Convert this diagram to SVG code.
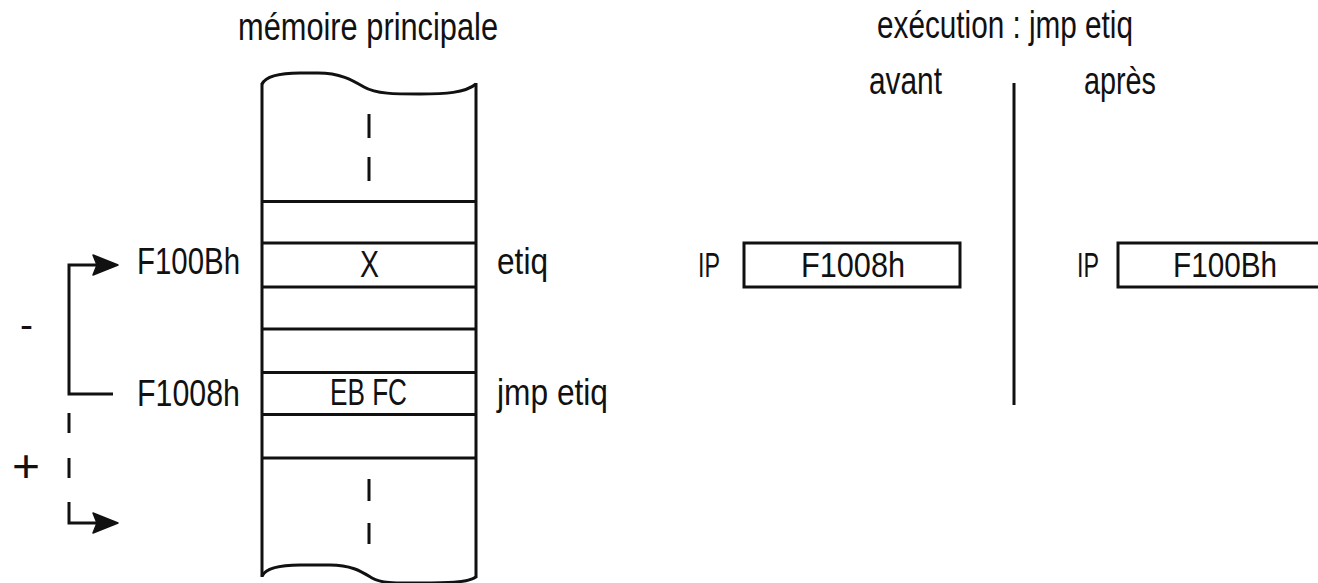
<svg xmlns="http://www.w3.org/2000/svg" width="1318" height="583" viewBox="0 0 1318 583">
  <style>
    .t { font-family: "Liberation Sans", Arial, sans-serif; fill: #111; }
    .ln { fill: none; stroke: #111; stroke-width: 3; }
  </style>
  <rect width="1318" height="583" fill="#fff"/>

  <!-- main memory column -->
  <g id="memoire">
    <text class="t" x="238" y="40" font-size="38" textLength="260" lengthAdjust="spacingAndGlyphs">mémoire principale</text>
    <path class="ln" d="M262,84 C266,76 280,73 300,73 L318,73 C340,73 352,80 364,87 C376,94 395,94 420,94 C445,94 465,93 476,84"/>
    <path class="ln" d="M262,576 C266,568 280,565 300,565 L330,565 C352,565 362,572 372,578 C382,584 400,583 420,583 C445,583 467,583 476,577"/>
    <line class="ln" x1="262" y1="83" x2="262" y2="577"/>
    <line class="ln" x1="476" y1="83" x2="476" y2="578"/>
    <!-- elided memory above and below -->
    <path class="ln" d="M369,114 V138 M369,157 V181 M369,479 V501 M369,523 V544"/>
  </g>

  <!-- memory cells -->
  <g id="cells">
    <line class="ln" x1="262" y1="201.5" x2="476" y2="201.5"/>
    <line class="ln" x1="262" y1="243" x2="476" y2="243"/>
    <line class="ln" x1="262" y1="287" x2="476" y2="287"/>
    <line class="ln" x1="262" y1="329" x2="476" y2="329"/>
    <line class="ln" x1="262" y1="372.5" x2="476" y2="372.5"/>
    <line class="ln" x1="262" y1="414.5" x2="476" y2="414.5"/>
    <line class="ln" x1="262" y1="458" x2="476" y2="458"/>
  </g>

  <g id="cell-etiq">
    <text class="t" x="137" y="274" font-size="37" textLength="103" lengthAdjust="spacingAndGlyphs">F100Bh</text>
    <text class="t" x="360" y="277" font-size="36" textLength="19" lengthAdjust="spacingAndGlyphs">X</text>
    <text class="t" x="497" y="274" font-size="37" textLength="51" lengthAdjust="spacingAndGlyphs">etiq</text>
  </g>

  <g id="cell-jmp">
    <text class="t" x="137" y="406" font-size="37" textLength="103" lengthAdjust="spacingAndGlyphs">F1008h</text>
    <text class="t" x="330" y="405" font-size="36" textLength="77" lengthAdjust="spacingAndGlyphs">EB FC</text>
    <text class="t" x="497" y="405" font-size="37" textLength="111" lengthAdjust="spacingAndGlyphs">jmp etiq</text>
  </g>

  <!-- jump direction: backward (-) / forward (+) -->
  <g id="connectors">
    <path class="ln" d="M113,394 H69 V265 H97"/>
    <polygon points="118,265 93,255 97,265 93,275" fill="#111" stroke="#111" stroke-width="1.5" stroke-linejoin="round"/>
    <path class="ln" d="M69,413 V433 M69,458 V478 M69,502 V523 H97"/>
    <polygon points="118,523 93,513 97,523 93,533" fill="#111" stroke="#111" stroke-width="1.5" stroke-linejoin="round"/>
  </g>

  <g id="signs">
    <text class="t" x="20" y="337" font-size="37" textLength="13" lengthAdjust="spacingAndGlyphs">-</text>
    <text class="t" x="12" y="482" font-size="46" textLength="28" lengthAdjust="spacingAndGlyphs">+</text>
  </g>

  <!-- execution of jmp etiq -->
  <g id="execution">
    <text class="t" x="877" y="38" font-size="38" textLength="256" lengthAdjust="spacingAndGlyphs">exécution : jmp etiq</text>
    <line class="ln" x1="1014" y1="83" x2="1014" y2="405"/>
  </g>

  <g id="avant">
    <text class="t" x="869" y="94" font-size="38" textLength="73" lengthAdjust="spacingAndGlyphs">avant</text>
    <text class="t" x="698" y="277" font-size="35" textLength="22" lengthAdjust="spacingAndGlyphs">IP</text>
    <rect class="ln" x="744" y="243" width="216" height="44"/>
    <text class="t" x="801" y="277" font-size="35" textLength="104" lengthAdjust="spacingAndGlyphs">F1008h</text>
  </g>

  <g id="apres">
    <text class="t" x="1084" y="94" font-size="38" textLength="72" lengthAdjust="spacingAndGlyphs">après</text>
    <text class="t" x="1077" y="277" font-size="35" textLength="22" lengthAdjust="spacingAndGlyphs">IP</text>
    <rect class="ln" x="1118" y="243" width="220" height="44"/>
    <text class="t" x="1173" y="277" font-size="35" textLength="104" lengthAdjust="spacingAndGlyphs">F100Bh</text>
  </g>
</svg>
